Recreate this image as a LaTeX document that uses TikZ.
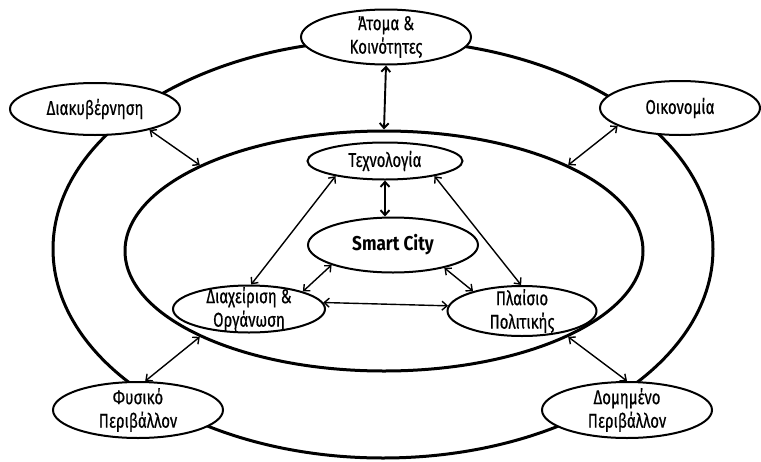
\documentclass[tikz,border=0pt]{standalone}
\usepackage{fontspec}
\setmainfont{Fira Sans}[FakeStretch=0.75,FakeBold=0.5]
\newfontfamily\smartfont{Fira Sans}[FakeStretch=0.86]
\usetikzlibrary{shapes.geometric,arrows.meta}
\begin{document}
\begin{tikzpicture}[x=1pt,y=-1pt,
  every node/.style={font=\fontsize{20}{23.5}\selectfont},
  ell/.style={ellipse, draw, line width=2pt, fill=white, inner xsep=0pt, inner ysep=-8pt, align=center},
  ring/.style={ellipse, draw, line width=3pt, inner sep=0pt},
  link/.style={{Straight Barb[length=5pt,width=9pt]}-{Straight Barb[length=5pt,width=9pt]}, line width=1.4pt},
  thicklink/.style={link, line width=1.9pt},
]
\useasboundingbox (0,0) rectangle (761,461);
\fill[white] (0,0) rectangle (761,461);
% outer ring
\node[ring, minimum width=660pt, minimum height=418pt] (outer) at (383,249) {};
% outer nodes
\node[ell, minimum width=170pt, minimum height=55pt] (atoma) at (386,37) {Άτομα \&\\Κοινότητες};
\node[ell, minimum width=170pt, minimum height=52pt] (diak) at (95,109) {Διακυβέρνηση};
\node[ell, minimum width=160pt, minimum height=54pt] (oik) at (680,108) {Οικονομία};
\node[ell, minimum width=170pt, minimum height=56pt] (fys) at (138,410) {Φυσικό\\Περιβάλλον};
\node[ell, minimum width=170pt, minimum height=56pt] (dom) at (627,410) {Δομημένο\\Περιβάλλον};
% inner nodes
\node[ell, minimum width=155pt, minimum height=37pt] (tech) at (385,161) {Τεχνολογία};
\node[ell, minimum width=170pt, minimum height=55pt, font=\fontsize{20}{23.5}\smartfont\bfseries] (smart) at (393,245) {Smart City};
\node[ell, minimum width=152pt, minimum height=47pt] (diax) at (249,309) {Διαχείριση \&\\Οργάνωση};
\node[ell, minimum width=149pt, minimum height=50pt] (plai) at (522,311) {Πλαίσιο\\Πολιτικής};
% inner ring (drawn over the lower nodes)
\node[ring, minimum width=518pt, minimum height=240pt] (inner) at (384,251) {};
% connectors
\draw[thicklink] (atoma.south) -- (inner.north);
\draw[link] (diak.339) -- (inner.155);
\draw[link] (oik.196) -- (inner.25);
\draw[link] (fys.76) -- (inner.205);
\draw[link] (dom.north) -- (inner.335);
\draw[thicklink] (tech.south) -- (tech.south |- smart.north);
\draw[link] (tech.197) -- (diax.85);
\draw[link] (tech.343) -- (plai.92);
\draw[link] (smart.198) -- (diax.18);
\draw[link] (smart.336) -- (plai.158);
\draw[link] (diax.5) -- (plai.176);
\end{tikzpicture}
\end{document}
